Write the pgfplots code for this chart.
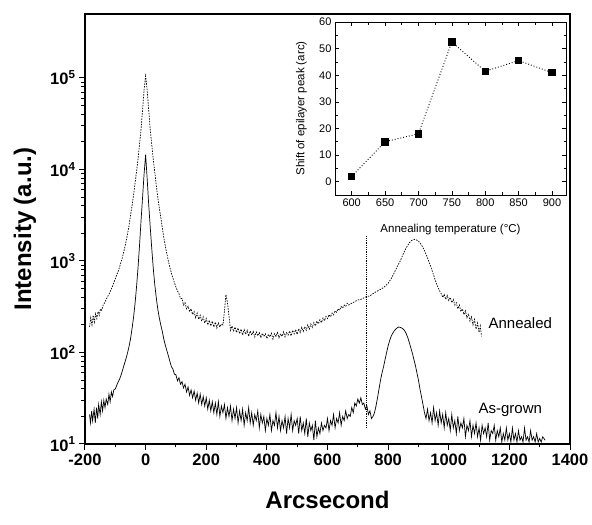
\documentclass[border=0pt]{standalone}
\usepackage{fontspec}
\setmainfont{Liberation Sans}
\usepackage{pgfplots}
\pgfplotsset{compat=1.18}

% as-grown rocking curve (solid)
\pgfplotstableread{
x y
-185 21
-182 17
-178 23
-175 18
-170 24
-166 17
-162 25
-158 19
-155 27
-150 21
-146 29
-142 23
-138 30
-134 25
-130 31
-125 27
-121 35
-117 29
-113 37
-109 33
-105 39
-100 40
-95 44
-90 48
-85 52
-80 58
-75 66
-70 75
-65 85
-60 98
-55 115
-50 140
-45 180
-40 240
-35 340
-30 520
-25 850
-20 1500
-15 2800
-10 5000
-5 9000
0 14500
5 8000
10 4200
15 2400
20 1400
25 850
30 560
35 400
40 300
45 240
50 200
55 170
60 140
65 120
70 105
75 92
80 80
85 70
90 66
95 58
100 57
105 49
110 53
115 45
120 48
125 41
130 45
135 37
140 42
145 34
150 39
155 32
160 38
165 30
170 36
175 28
180 35
185 27
190 33
195 26
200 32
205 24
210 30
215 23
220 29
225 22
230 28
235 21
240 29
245 20
250 26
255 22
260 27
265 19
270 25
275 20
280 26
285 18
290 24
295 19
300 25
305 17
310 23
315 18
320 24
325 16
330 22
335 18
340 25
345 17
350 22
355 16
360 21
365 18
370 23
375 15
380 21
385 17
390 20
395 14
400 19
405 16
410 21
415 14
420 18
425 16
430 22
435 15
440 20
445 14
450 18
455 15
460 20
465 13
470 19
475 15
480 21
485 14
490 18
495 16
500 19
505 13
510 20
515 14
520 17
525 13
530 19
535 12
540 17
545 14
550 16
555 11
560 18
565 12
570 15
575 13
580 17
585 14
590 16
595 15
600 19
605 14
610 18
615 16
620 21
625 15
630 19
635 17
640 22
645 16
650 20
655 18
660 23
665 19
670 21
675 20
680 25
685 22
690 28
695 26
700 31
705 28
710 32
715 27
720 28
725 24
730 26
735 21
740 23
745 19
750 20
755 22
760 26
765 32
770 40
775 50
780 60
785 70
790 84
795 100
800 118
805 135
810 150
815 162
820 172
825 180
830 186
835 190
840 188
845 185
850 180
855 172
860 160
865 145
870 128
875 112
880 98
885 84
890 72
895 60
900 50
905 40
910 33
915 27
920 22
925 19
930 24
935 18
940 22
945 17
950 25
955 18
960 22
965 16
970 23
975 17
980 21
985 15
990 22
995 16
1000 19
1005 14
1010 21
1015 15
1020 18
1025 13
1030 20
1035 14
1040 17
1045 15
1050 19
1055 12
1060 16
1065 14
1070 18
1075 12
1080 16
1085 13
1090 17
1095 12
1100 15
1105 11
1110 16
1115 13
1120 15
1125 12
1130 17
1135 11
1140 14
1145 13
1150 16
1155 11
1160 14
1165 12
1170 15
1175 10.5
1180 13
1185 11
1190 15
1195 11
1200 13
1205 10.5
1210 15
1215 11
1220 13
1225 10.5
1230 14
1235 11
1240 12
1245 10.5
1250 15
1255 11
1260 12
1265 10.5
1270 14
1275 11
1280 12
1285 10.5
1290 13
1295 10.5
1300 11.5
1305 10.5
1310 12
1318 11
}\asgrown

% annealed rocking curve (dotted)
\pgfplotstableread{
x y
-185 190
-181 240
-177 200
-173 255
-169 215
-165 265
-161 235
-157 280
-153 255
-149 300
-145 290
-140 330
-135 350
-130 380
-125 410
-120 440
-115 480
-110 520
-105 580
-100 640
-95 710
-90 780
-85 880
-80 1000
-75 1150
-70 1350
-65 1600
-60 1950
-55 2400
-50 3100
-45 4000
-40 5200
-35 7000
-30 9500
-25 13000
-20 19000
-15 28000
-10 45000
-5 75000
0 105000
5 75000
10 45000
15 28000
20 19000
25 13000
30 9500
35 6800
40 5000
45 3800
50 3000
55 2300
60 1800
65 1450
70 1200
75 1000
80 850
85 740
90 650
95 580
100 520
105 470
110 440
115 390
120 390
125 330
130 350
135 300
140 320
145 280
150 300
155 260
160 280
165 240
170 270
175 230
180 255
185 220
190 245
195 210
200 235
205 200
210 225
215 195
220 220
225 190
230 215
235 185
240 210
245 190
250 205
255 200
260 280
265 430
270 350
275 250
280 175
285 195
290 170
295 190
300 165
305 185
310 160
315 180
320 155
325 178
330 158
335 175
340 150
345 172
350 155
355 170
360 148
365 168
370 152
375 165
380 145
385 162
390 150
395 160
400 142
405 158
410 148
415 162
420 140
425 160
430 150
435 165
440 145
445 160
450 150
455 168
460 148
465 165
470 155
475 172
480 152
485 175
490 160
495 178
500 158
505 182
510 165
515 188
520 170
525 192
530 175
535 200
540 180
545 205
550 188
555 212
560 195
565 220
570 205
575 228
580 212
585 238
590 222
595 248
600 235
605 258
610 245
615 270
620 258
625 285
630 275
635 300
640 290
645 318
650 305
655 330
660 318
665 345
670 330
680 345
690 360
700 375
710 380
720 395
730 410
740 415
750 440
760 460
770 480
780 500
790 530
800 570
810 640
820 740
830 870
840 1000
850 1200
860 1400
870 1580
880 1700
890 1720
900 1650
910 1500
920 1300
930 1080
940 880
950 700
960 560
970 470
975 440
980 400
985 430
990 380
995 420
1000 370
1005 400
1010 350
1015 380
1020 330
1025 350
1030 300
1035 330
1040 280
1045 300
1050 260
1055 285
1060 240
1065 265
1070 220
1075 245
1080 200
1085 230
1090 180
1095 210
1100 165
1104 195
1108 150
}\annealed

% inset: shift of epilayer peak vs annealing temperature
\pgfplotstableread{
T shift
600 2
650 15
700 18
750 52.5
800 41.5
850 45.5
900 41
}\shift

\begin{document}
\begin{tikzpicture}
\useasboundingbox (-85pt,-81pt) rectangle (507pt,444pt);
\begin{axis}[
    scale only axis,
    width=485pt, height=430pt,
    xmin=-200, xmax=1400,
    ymode=log, ymin=10, ymax=5e5,
    xtick={-200,0,200,400,600,800,1000,1200,1400},
    xticklabels={-200,0,200,400,600,800,1000,1200,1400},
    minor x tick num=1,
    ytick={10,100,1000,10000,100000},
    yticklabels={10\textsuperscript{1},10\textsuperscript{2},10\textsuperscript{3},10\textsuperscript{4},10\textsuperscript{5}},
    xtick pos=bottom, ytick pos=left,
    tick align=outside,
    major tick length=6pt, minor tick length=3.5pt,
    every tick/.style={black, line width=1pt},
    axis line style={line width=1.2pt},
    ticklabel style={font=\bfseries\fontsize{16.5}{16.5}\selectfont},
    xlabel={Arcsecond}, ylabel={Intensity (a.u.)},
    label style={font=\bfseries\fontsize{24}{24}\selectfont},
    xlabel style={at={(axis description cs:0.5,-0.13)}, anchor=center},
    ylabel style={at={(axis description cs:-0.124,0.5)}, anchor=center},
]
\addplot[black, line width=0.7pt] table[x=x, y=y] {\asgrown};
\addplot[black, line width=0.7pt, dash pattern=on 1.5pt off 1.2pt] table[x=x, y=y] {\annealed};
\addplot[black, line width=0.8pt, densely dotted] coordinates {(728,15) (728,1900)};
\node[font=\fontsize{15}{15}\selectfont] at (axis cs:1236,210) {Annealed};
\node[font=\fontsize{15}{15}\selectfont] at (axis cs:1203,23.5) {As-grown};
\end{axis}

\begin{axis}[
    at={(250pt,249pt)}, anchor=south west,
    scale only axis,
    width=231pt, height=173pt,
    xmin=575, xmax=921, ymin=-5, ymax=60,
    xtick={600,650,...,900}, ytick={0,10,...,60},
    minor x tick num=1, minor y tick num=1,
    tick align=inside,
    major tick length=4pt, minor tick length=2.5pt,
    every tick/.style={black, line width=0.6pt},
    axis line style={line width=0.8pt},
    axis background/.style={fill=white},
    /pgf/number format/assume math mode=true,
    ticklabel style={font=\fontsize{11}{11}\selectfont},
    xlabel={Annealing temperature (°C)},
    ylabel={Shift of epilayer peak (arc)},
    label style={font=\fontsize{11.5}{11.5}\selectfont},
    xlabel style={at={(axis description cs:0.5,-0.2)}, anchor=center},
    ylabel style={at={(axis description cs:-0.145,0.5)}, anchor=center},
]
\addplot[black, line width=0.9pt, dotted, mark=square*, mark size=3.2pt,
    mark options={solid}] table[x=T, y=shift] {\shift};
\end{axis}
\end{tikzpicture}
\end{document}
